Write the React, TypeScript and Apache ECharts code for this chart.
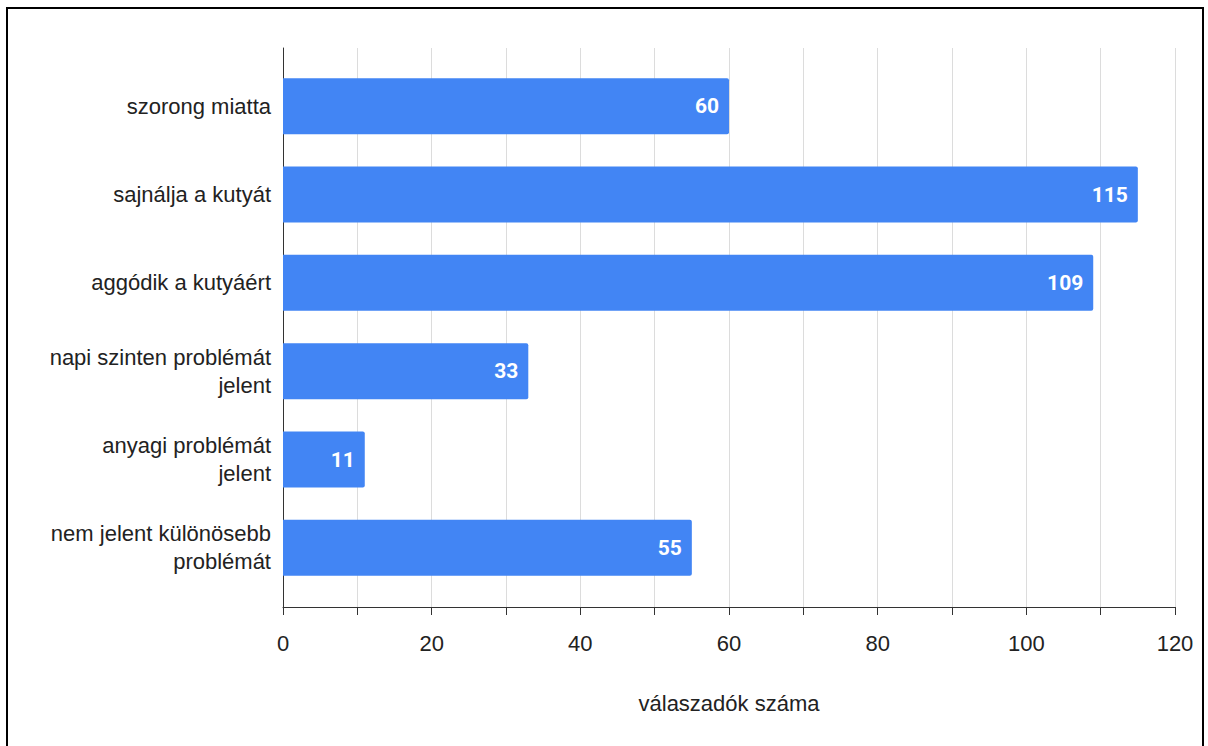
import React, { useEffect, useRef } from "react";
import * as echarts from "echarts";

const categories = [
  "szorong miatta",
  "sajnálja a kutyát",
  "aggódik a kutyáért",
  "napi szinten problémát\njelent",
  "anyagi problémát\njelent",
  "nem jelent különösebb\nproblémát",
];
const values = [60, 115, 109, 33, 11, 55];
const xTickLabels = [0, 20, 40, 60, 80, 100, 120];
const xAxisTitle = "válaszadók száma";

const FONT = "'Liberation Sans', Arial, sans-serif";

export default function App() {
  const ref = useRef<HTMLDivElement>(null);
  useEffect(() => {
    if (!ref.current) return;
    const chart = echarts.init(ref.current, undefined, { renderer: "svg" });
    const left = 283;
    const right = 1208 - 1175;
    chart.setOption({
      animation: false,
      grid: [
        { left, right, top: 48, height: 559, containLabel: false },
        { left, right, top: 62, height: 530, containLabel: false },
      ],
      xAxis: [
        {
          gridIndex: 0,
          type: "value",
          min: 0,
          max: 120,
          interval: 10,
          axisLine: { show: true, lineStyle: { color: "#333", width: 1 } },
          axisTick: { show: true, length: 8, lineStyle: { color: "#333" } },
          splitLine: { show: true, lineStyle: { color: "#dcdcdc", width: 1 } },
          axisLabel: {
            color: "#222",
            fontSize: 22,
            fontFamily: FONT,
            margin: 25,
            formatter: (v: number) => (xTickLabels.includes(v) ? String(v) : ""),
          },
          name: xAxisTitle,
          nameLocation: "middle",
          nameGap: 85,
          nameTextStyle: {
            color: "#222",
            fontSize: 22,
            fontFamily: FONT,
          },
        },
        {
          gridIndex: 1,
          type: "value",
          min: 0,
          max: 120,
          show: false,
        },
      ],
      yAxis: [
        {
          gridIndex: 0,
          type: "value",
          min: 0,
          max: 1,
          axisLine: { show: true, onZero: false, lineStyle: { color: "#333", width: 1 } },
          axisTick: { show: false },
          axisLabel: { show: false },
          splitLine: { show: false },
        },
        {
          gridIndex: 1,
          type: "category",
          data: categories,
          inverse: true,
          axisLine: { show: false },
          axisTick: { show: false },
          splitLine: { show: false },
          axisLabel: {
            color: "#222",
            fontSize: 22,
            lineHeight: 28,
            align: "right",
            margin: 12,
            fontFamily: FONT,
          },
        },
      ],
      series: [
        {
          type: "bar",
          xAxisIndex: 1,
          yAxisIndex: 1,
          data: values,
          barWidth: 56,
          itemStyle: { color: "#4285F4", borderRadius: [0, 2, 2, 0] },
          label: {
            show: true,
            position: "insideRight",
            distance: 10,
            color: "#fff",
            fontSize: 21,
            fontWeight: "bold",
            fontFamily: "Roboto, sans-serif",
          },
        },
      ],
    });
    return () => chart.dispose();
  }, []);
  return (
    <div style={{ position: "fixed", left: 0, top: 0, width: 1208, height: 746, background: "#fff" }}>
      <div
        style={{
          position: "absolute",
          left: 6,
          top: 7,
          width: 1198,
          height: 760,
          border: "2px solid #000",
          boxSizing: "border-box",
        }}
      />
      <div ref={ref} style={{ position: "absolute", left: 0, top: 0, width: 1208, height: 746 }} />
    </div>
  );
}
